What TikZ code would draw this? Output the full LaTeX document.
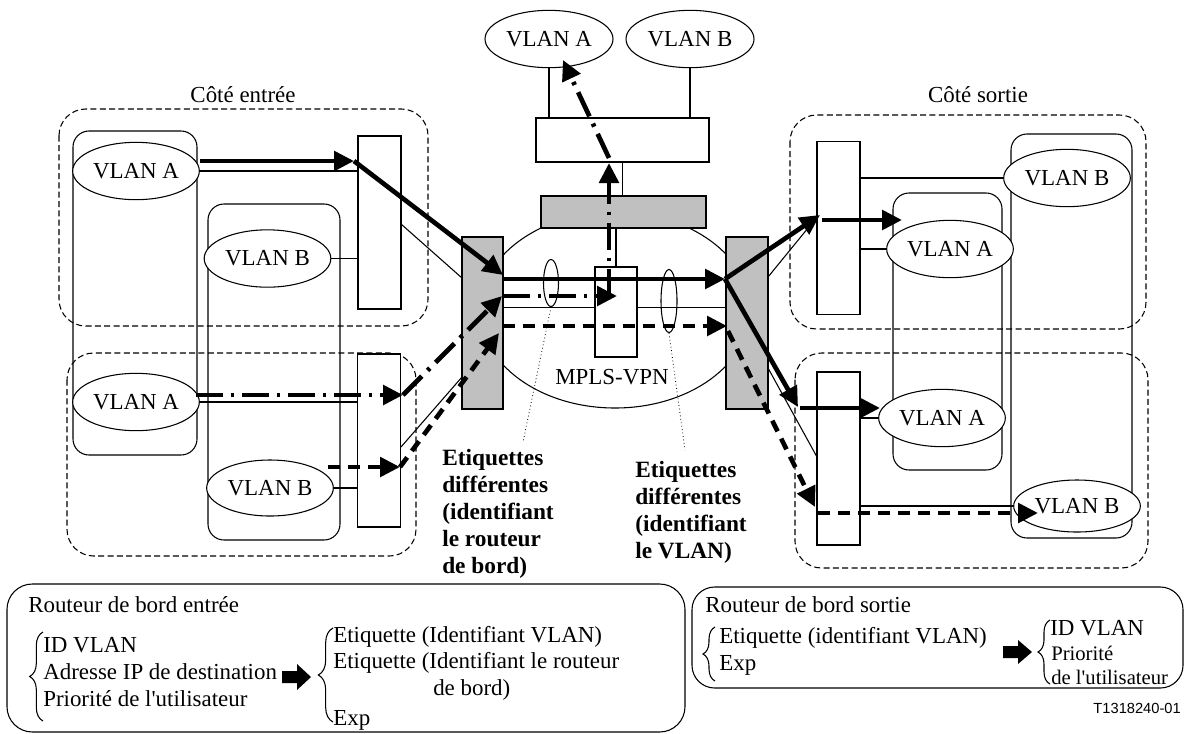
\documentclass[tikz,border=0pt]{standalone}
\usepackage{fontspec}
\setmainfont{Liberation Serif}[Ligatures=TeXOff]
\newfontfamily\arialfont{Liberation Sans}
\usetikzlibrary{arrows.meta,shapes.geometric,decorations.pathreplacing,calc}
\definecolor{grayfill}{RGB}{192,192,192}
\begin{document}
\begin{tikzpicture}[x=0.75pt,y=-0.75pt,
  font=\fontsize{17.2}{20}\selectfont,
  thinline/.style={line width=0.8pt},
  region/.style={draw,line width=0.8pt,dash pattern=on 4.5pt off 2.5pt,rounded corners=20pt},
  vlanbox/.style={draw,line width=0.8pt,rounded corners=12pt},
  vlan/.style={ellipse,draw,line width=0.8pt,fill=white,inner sep=0pt,minimum width=95pt,minimum height=43pt},
  switchbox/.style={draw,line width=0.8pt,fill=white,inner sep=0pt,minimum width=32.25pt,minimum height=129.75pt},
  graybox/.style={draw,line width=0.8pt,fill=grayfill,inner sep=0pt},
  flow/.style={line width=3.5pt,-{Triangle[length=15pt,width=14.5pt]}},
  flowdash/.style={flow,dash pattern=on 9pt off 6pt},
  flowdashdot/.style={flow,dash pattern=on 20pt off 6pt on 2.5pt off 6pt},
  boldlabel/.style={font=\fontsize{17.5}{20.25}\selectfont\bfseries,align=left,inner sep=0pt,anchor=north west},
  txt/.style={inner sep=0pt,anchor=west},
  block/.style={inner sep=0pt,anchor=west,align=left,font=\fontsize{17.2}{20}\selectfont},
  small/.style={inner sep=0pt,anchor=west,font=\fontsize{15.5}{18}\selectfont},
  bigarrow/.style={fill=black},
  bracedeco/.style={thinline,decorate,decoration={brace,amplitude=#1}},
]
\useasboundingbox (0,0) rectangle (1184,733);

% ---------- regions ----------
\draw[region] (59,109) rectangle (428,326);
\draw[region] (67,353) rectangle (416,556);
\draw[region] (790,115) rectangle (1146,329);
\draw[region] (795,353) rectangle (1148,568);

\node (cotein) at (243,95) {Côté entrée};
\node (coteout) at (978,95) {Côté sortie};

% ---------- VLAN containers ----------
\draw[vlanbox] (73,131) rectangle (197,455);
\draw[vlanbox] (208,204) rectangle (340,540);
\draw[vlanbox] (893,193) rectangle (1002,470);
\draw[vlanbox] (1011,134) rectangle (1132,538);

% ---------- switches ----------
\node[switchbox] (sw1) at (379.5,222.5) {};
\node[switchbox] (sw2) at (379,440.5) {};
\node[switchbox] (sw3) at (838.5,228) {};
\node[switchbox] (sw4) at (838.5,458.5) {};

% ---------- VLAN ellipses ----------
\node[vlan] (vA1) at (136,171) {VLAN A};
\node[vlan] (vB1) at (267.5,258.5) {VLAN B};
\node[vlan] (vA2) at (136,402) {VLAN A};
\node[vlan,minimum height=42pt] (vB2) at (270,488) {VLAN B};
\node[vlan] (vB3) at (1067,178) {VLAN B};
\node[vlan] (vA3) at (950,249) {VLAN A};
\node[vlan] (vA4) at (942,418) {VLAN A};
\node[vlan,minimum height=39pt] (vB4) at (1077,506) {VLAN B};

% ---------- MPLS core ----------
\node[ellipse,draw,thinline,inner sep=0pt,minimum width=202.5pt,minimum height=147pt] (mpls) at (615,310) {};
\node[graybox,minimum width=30.75pt,minimum height=129pt] (gL) at (482.5,323) {};
\node[graybox,minimum width=31.5pt,minimum height=129pt] (gR) at (747,323) {};
\node[graybox,minimum width=123.75pt,minimum height=24pt] (gT) at (623.5,212) {};
\node[switchbox,minimum width=129.75pt,minimum height=33pt] (wT) at (622.5,140) {};
\node[vlan,minimum width=96pt] (tA) at (549,39) {VLAN A};
\node[vlan,minimum width=96pt] (tB) at (690,39) {VLAN B};
\node[switchbox,minimum width=31.5pt,minimum height=67.5pt] (core) at (616,312) {};
\node (mplslabel) at (612,377) {MPLS-VPN};
\node[ellipse,draw,thinline,inner sep=0pt,minimum width=11.25pt,minimum height=35.25pt] (e1) at (551,283) {};
\node[ellipse,draw,thinline,inner sep=0pt,minimum width=12pt,minimum height=47.25pt] (e2) at (669,301) {};

% ---------- thin links ----------
\draw[thinline] (vA1.east) -- (vA1.east -| sw1.west);
\draw[thinline] (vB1.east) -- (vB1.east -| sw1.west);
\draw[thinline] (vA2.east) -- (vA2.east -| sw2.west);
\draw[thinline] (vB2.east) -- (vB2.east -| sw2.west);
\draw[thinline] (sw3.east |- vB3.west) -- (vB3.west);
\draw[thinline] (sw3.east |- vA3.west) -- (vA3.west);
\draw[thinline] (sw4.east |- vA4.west) -- (vA4.west);
\draw[thinline] (sw4.east |- vB4.west) -- (vB4.west);
\draw[thinline] (tA.south) -- (tA.south |- wT.north);
\draw[thinline] (tB.south) -- (tB.south |- wT.north);
\draw[thinline] (wT.south) -- (wT.south |- gT.north);
\draw[thinline] (gT.south -| core.north) -- (core.north);
\draw[thinline] (gL.east |- e1.south) -- (core.west |- e1.south);
\draw[thinline] (core.east |- e1.south) -- (gR.west |- e1.south);

\coordinate (s1out) at (401,224);  \coordinate (gLin1) at (462,278);
\coordinate (s2out) at (401,447);  \coordinate (gLin2) at (462,377);
\coordinate (gRout1) at (768,277); \coordinate (s3in) at (817,217);
\coordinate (gRout2) at (768,368); \coordinate (s4in) at (817,457);
\draw[thinline] (s1out) -- (gLin1);
\draw[thinline] (s2out) -- (gLin2);
\draw[thinline] (gRout1) -- (s3in);
\draw[thinline] (gRout2) -- (s4in);

% ---------- labels ----------
\node[boldlabel] (lab1) at (442,449) {Etiquettes\\différentes\\(identifiant\\le routeur\\de bord)};
\node[boldlabel] (lab2) at (635,461) {Etiquettes\\différentes\\(identifiant\\le VLAN)};
\coordinate (d1) at (523,442);
\coordinate (d2) at (685,450);
\draw[line width=0.6pt,dotted] (e1.south) -- (d1);
\draw[line width=0.6pt,dotted] (e2.south) -- (d2);

% ---------- solid flow ----------
\coordinate (a1) at (200,161); \coordinate (a2) at (354,161);
\coordinate (a3) at (503,275); \coordinate (a4) at (503,279);
\coordinate (a5) at (725,279); \coordinate (a6) at (820,215);
\coordinate (a7) at (798,407); \coordinate (a8) at (822,220);
\coordinate (a9) at (902,220); \coordinate (a10) at (800,408);
\coordinate (a11) at (880,408);
\draw[flow] (a1) -- (a2);
\draw[flow] (a2) -- (a3);
\draw[flow] (a4) -- (a5);
\draw[flow] (a5) -- (a6);
\draw[flow] (a5) -- (a7);
\draw[flow] (a8) -- (a9);
\draw[flow] (a10) -- (a11);

% ---------- dash-dot flow ----------
\coordinate (b1) at (196,395); \coordinate (b2) at (403,395);
\coordinate (b3) at (502,296); \coordinate (b4) at (503,296);
\coordinate (b5) at (617,296); \coordinate (b6) at (609,296);
\coordinate (b7) at (609,163); \coordinate (b8) at (609,158);
\coordinate (b9) at (563,60);
\draw[flowdashdot] (b1) -- (b2);
\draw[flowdashdot] (b2) -- (b3);
\draw[flowdashdot] (b4) -- (b5);
\draw[flowdashdot] (b6) -- (b7);
\draw[flowdashdot] (b8) -- (b9);

% ---------- dashed flow ----------
\coordinate (c1) at (328,467); \coordinate (c2) at (400,467);
\coordinate (c3) at (499,333); \coordinate (c4) at (503,326);
\coordinate (c5) at (727,326); \coordinate (c6) at (728,331);
\coordinate (c7) at (815,507); \coordinate (c8) at (818,513);
\coordinate (c9) at (1038,513);
\draw[flowdash] (c1) -- (c2);
\draw[flowdash] (c2) -- (c3);
\draw[flowdash] (c4) -- (c5);
\draw[flowdash] (c6) -- (c7);
\draw[flowdash] (c8) -- (c9);

% ---------- bottom left box ----------
\draw[thinline,rounded corners=19pt] (7,584) rectangle (685,732);
\node[txt] (rin) at (28,605) {Routeur de bord entrée};
\draw[bracedeco=10pt] (43,721) -- (43,632);
\node[block] (inlist) at (43,672) {ID VLAN\\Adresse IP de destination\\Priorité de l'utilisateur};
\fill[bigarrow] (282,671) -- (297,671) -- (297,664) -- (311,677) -- (297,690) -- (297,683) -- (282,683) -- cycle;
\draw[bracedeco=11pt] (333,722) -- (333,628);
\node[txt] (o1) at (333,637) {Etiquette (Identifiant VLAN)};
\node[txt] (o2) at (333,663) {Etiquette (Identifiant le routeur};
\node[txt] (o3) at (433,690) {de bord)};
\node[txt] (o4) at (333,720) {Exp};

% ---------- bottom right box ----------
\draw[thinline,rounded corners=17pt] (692,587) rectangle (1183,688);
\node[txt] (rout) at (705,605) {Routeur de bord sortie};
\draw[bracedeco=9pt] (715,681) -- (715,627);
\node[txt] (q1) at (719,638) {Etiquette (identifiant VLAN)};
\node[txt] (q2) at (719,665) {Exp};
\fill[bigarrow] (1003,646) -- (1018,646) -- (1018,640) -- (1032,652) -- (1018,664) -- (1018,658) -- (1003,658) -- cycle;
\draw[bracedeco=9pt] (1050,684) -- (1050,620);
\node[txt] (r1) at (1050,628) {ID VLAN};
\node[small] (r2) at (1051,653) {Priorité};
\node[small] (r3) at (1051,677) {de l'utilisateur};

\node[inner sep=0pt,anchor=east,font=\arialfont\fontsize{11}{13}\selectfont] (ref) at (1181,708) {T1318240-01};
\end{tikzpicture}
\end{document}
